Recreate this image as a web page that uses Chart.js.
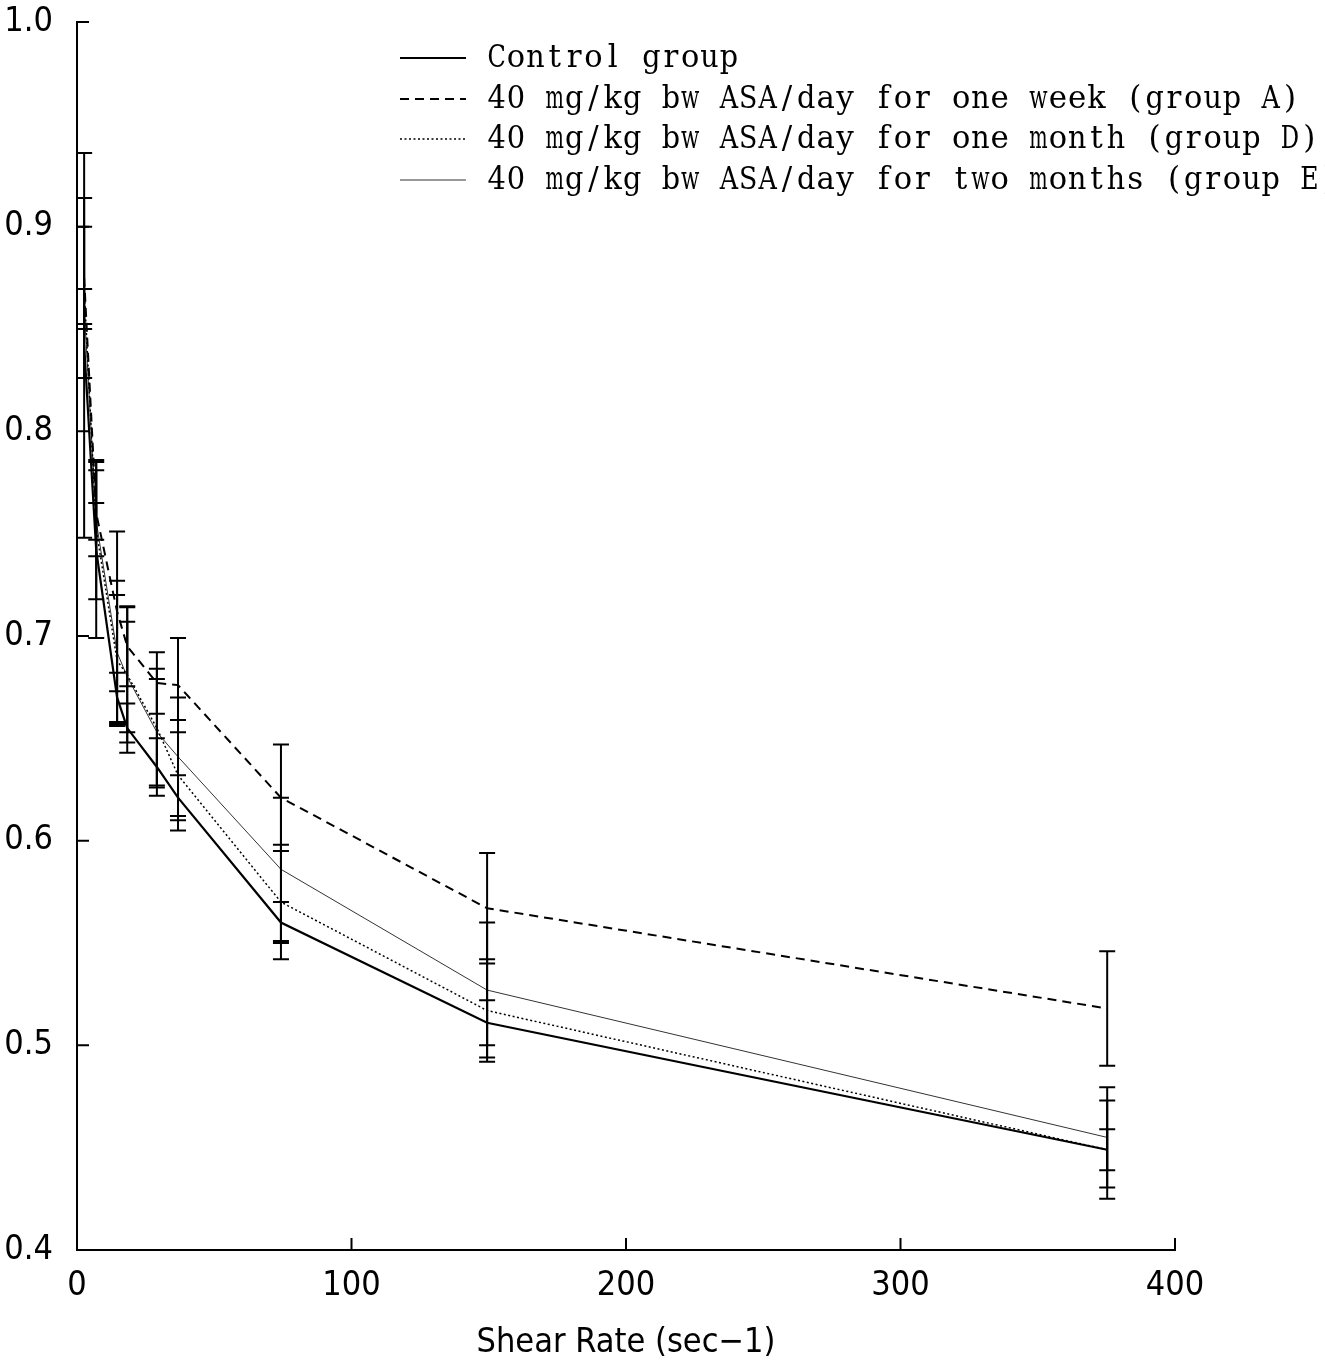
<!DOCTYPE html>
<html><head><meta charset="utf-8">
<script src="https://cdn.jsdelivr.net/npm/chart.js@4"></script>
<style>html,body{margin:0;padding:0;background:#fff;overflow:hidden}#wrap{width:1325px;height:1366px}</style>
</head><body><div id="wrap"><canvas id="c" width="1325" height="1366"></canvas></div>
<script>
// Shear rates (sec-1)
const shearRates = [2.6, 7, 14.6, 18.3, 29.1, 36.8, 74.3, 149.4, 375.3];
// Means
const controlMean = [0.842, 0.742, 0.670, 0.655, 0.636, 0.621, 0.560, 0.511, 0.449];
const groupAMean  = [0.875, 0.760, 0.712, 0.695, 0.677, 0.676, 0.621, 0.567, 0.518];
const groupDMean  = [0.870, 0.752, 0.688, 0.681, 0.655, 0.632, 0.570, 0.517, 0.449];
const groupEMean  = [0.861, 0.756, 0.692, 0.680, 0.653, 0.641, 0.586, 0.527, 0.455];
// Standard deviations
const controlSD = [0.094, 0.043, 0.012, 0.012, 0.014, 0.011, 0.010, 0.011, 0.024];
const groupASD  = [0.025, 0.021, 0.039, 0.0195, 0.015, 0.023, 0.026, 0.027, 0.028];
const groupDSD  = [0.044, 0.034, 0.032, 0.033, 0.029, 0.027, 0.028, 0.025, 0.010];
const groupESD  = [0.0085, 0.009, 0.035, 0.027, 0.026, 0.029, 0.035, 0.033, 0.0245];
// Labels
const seriesLabels = [
  'Control group',
  '40 mg/kg bw ASA/day for one week (group A)',
  '40 mg/kg bw ASA/day for one month (group D)',
  '40 mg/kg bw ASA/day for two months (group E)'
];
const xTicks = [0, 100, 200, 300, 400];
const yTicks = [0.4, 0.5, 0.6, 0.7, 0.8, 0.9, 1.0];
const xTitle = 'Shear Rate (sec\u22121)';

const toPts = (m) => shearRates.map((x, i) => ({x: x, y: m[i]}));
const styles = [
  {borderColor:'#000', borderWidth:2.2, borderDash:[]},
  {borderColor:'#000', borderWidth:2, borderDash:[9,6]},
  {borderColor:'#000', borderWidth:1.5, borderDash:[2,2.5]},
  {borderColor:'#333', borderWidth:1, borderDash:[]}
];
const means = [controlMean, groupAMean, groupDMean, groupEMean];
const sds = [controlSD, groupASD, groupDSD, groupESD];

const datasets = means.map((m, i) => Object.assign({
  label: seriesLabels[i], data: toPts(m), pointRadius: 0, fill: false, tension: 0,
  sd: sds[i]
}, styles[i]));

const tickFont = "'Liberation Sans Narrow','DejaVu Sans Condensed','Liberation Sans',sans-serif";

const errorBars = {
  id: 'errorBars',
  afterDatasetsDraw(chart) {
    const ctx = chart.ctx, xs = chart.scales.x, ys = chart.scales.y;
    ctx.save();
    ctx.strokeStyle = '#000'; ctx.lineWidth = 2; ctx.setLineDash([]);
    chart.data.datasets.forEach(ds => {
      ds.data.forEach((p, i) => {
        const px = xs.getPixelForValue(p.x);
        const top = ys.getPixelForValue(p.y + ds.sd[i]);
        const bot = ys.getPixelForValue(p.y - ds.sd[i]);
        ctx.beginPath();
        ctx.moveTo(px, top); ctx.lineTo(px, bot);
        ctx.moveTo(px - 8, top); ctx.lineTo(px + 8, top);
        ctx.moveTo(px - 8, bot); ctx.lineTo(px + 8, bot);
        ctx.stroke();
      });
    });
    ctx.restore();
  }
};

const axesTicks = {
  id: 'axesTicks',
  afterDraw(chart) {
    const ctx = chart.ctx, xs = chart.scales.x, ys = chart.scales.y, a = chart.chartArea;
    ctx.save();
    ctx.strokeStyle = '#000'; ctx.lineWidth = 2; ctx.setLineDash([]);
    ctx.beginPath();
    xTicks.forEach(v => { const px = xs.getPixelForValue(v); ctx.moveTo(px, a.bottom); ctx.lineTo(px, a.bottom - 12); });
    yTicks.forEach(v => { const py = ys.getPixelForValue(v); ctx.moveTo(a.left, py); ctx.lineTo(a.left + 12, py); });
    ctx.stroke();
    // legend
    const lx0 = 400, lx1 = 466, tx = 487, rows = [58, 99, 139, 180], charW = 19.35;
    ctx.font = "31px 'DejaVu Serif','Liberation Serif',serif";
    ctx.textBaseline = 'middle';
    ctx.fillStyle = '#000';
    chart.data.datasets.forEach((ds, i) => {
      ctx.save();
      ctx.strokeStyle = ds.borderColor; ctx.lineWidth = ds.borderWidth;
      ctx.setLineDash(ds.borderDash || []);
      ctx.beginPath(); ctx.moveTo(lx0, rows[i]); ctx.lineTo(lx1, rows[i]); ctx.stroke();
      ctx.restore();
      // monospaced layout: each character in its own cell, squeezed if too wide
      const txt = ds.label;
      ctx.textAlign = 'center';
      for (let k = 0; k < txt.length; k++) {
        const w = ctx.measureText(txt[k]).width;
        const s = w > charW - 1 ? (charW - 1) / w : 1;
        ctx.save();
        ctx.translate(tx + charW * (k + 0.5), rows[i] + 1);
        ctx.scale(s, 1);
        ctx.fillText(txt[k], 0, 0);
        ctx.restore();
      }
    });
    ctx.restore();
  }
};

new Chart(document.getElementById('c'), {
  type: 'line',
  data: { datasets: datasets },
  options: {
    responsive: false, animation: false, devicePixelRatio: 1,
    layout: { padding: { top: 22, right: 150, left: 0, bottom: 0 } },
    plugins: { legend: { display: false }, tooltip: { enabled: false } },
    scales: {
      x: {
        type: 'linear', min: 0, max: 400,
        afterBuildTicks: (s) => { s.ticks = xTicks.map(v => ({value: v})); },
        afterFit: (s) => { s.height = 116; s.paddingLeft = 0; s.paddingRight = 0; },
        grid: { display: false, drawTicks: false },
        border: { display: true, color: '#000', width: 2 },
        ticks: { color: '#000', padding: 16, font: { family: tickFont, size: 34 }, maxRotation: 0,
                 callback: (v) => String(v) },
        title: { display: true, text: xTitle, color: '#000', font: { family: tickFont, size: 34 }, padding: { top: 0, bottom: 2 } }
      },
      y: {
        type: 'linear', min: 0.4, max: 1.0,
        afterBuildTicks: (s) => { s.ticks = yTicks.map(v => ({value: v})); },
        afterFit: (s) => { s.width = 77; s.paddingTop = 0; s.paddingBottom = 0; },
        grid: { display: false, drawTicks: false },
        border: { display: true, color: '#000', width: 2 },
        ticks: { color: '#000', padding: 24, font: { family: tickFont, size: 34 },
                 callback: (v) => Number(v).toFixed(1) }
      }
    }
  },
  plugins: [errorBars, axesTicks]
});
</script>
</body></html>
